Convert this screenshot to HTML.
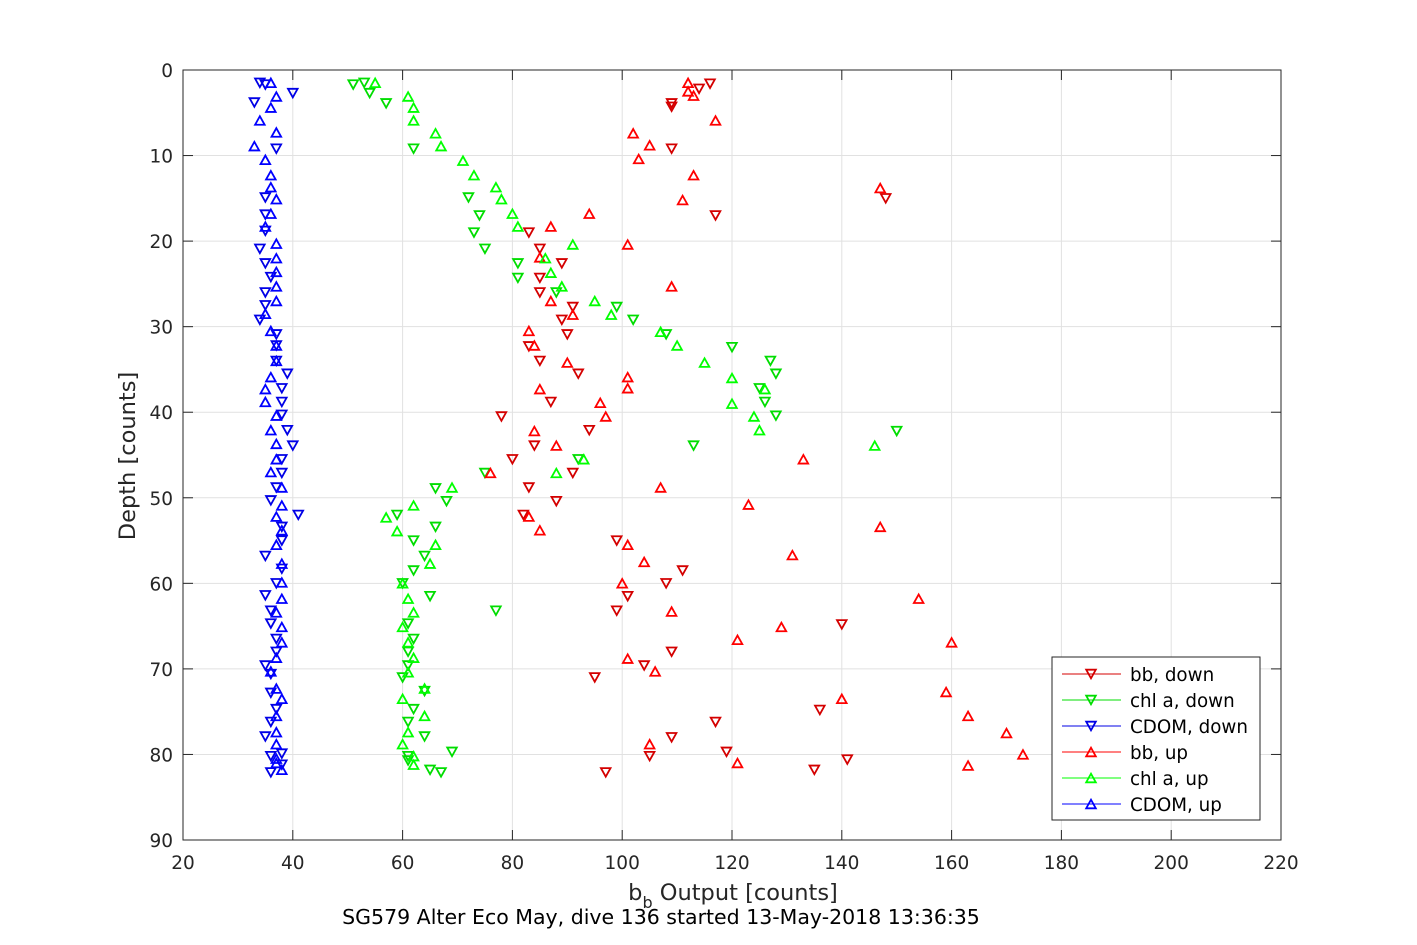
<!DOCTYPE html>
<html><head><meta charset="utf-8"><style>
body{margin:0;background:#fff;}
svg{display:block;font-family:"DejaVu Sans","Liberation Sans",sans-serif;}
</style></head><body>
<svg id="chart" width="1417" height="945" viewBox="0 0 1417 945" xmlns="http://www.w3.org/2000/svg">
<rect x="0" y="0" width="1417" height="945" fill="#fff"/>
<g id="grid"></g>
<g id="axes"></g>
<g id="marks"></g>
<text transform="translate(135,456) rotate(-90)" text-anchor="middle" font-size="22.5" fill="#262626">Depth [counts]</text>
<text x="733" y="900" text-anchor="middle" font-size="22.5" fill="#262626">b<tspan font-size="16" dy="8">b</tspan><tspan dy="-8"> Output [counts]</tspan></text>
<text x="661" y="924" text-anchor="middle" font-size="20.5" fill="#000">SG579 Alter Eco May, dive 136 started 13-May-2018 13:36:35</text>
<g id="legend"></g>
</svg>
<script>
const xTicks=[20,40,60,80,100,120,140,160,180,200,220];
const yTicks=[0,10,20,30,40,50,60,70,80,90];
const seriesNames=["bb, down","chl a, down","CDOM, down","bb, up","chl a, up","CDOM, up"];
const seriesColors=["#d40000","#00dd00","#0000e6","#ff0000","#00ff00","#0000ff"];
const seriesDir=["down","down","down","up","up","up"];
const bbDown=[[116,1.6],[114,2.2],[109,3.9],[109,4.3],[109,9.2],[117,17],[148,15],[83,19],[85,20.9],[89,22.6],[85,24.3],[85,26],[91,27.7],[89,29.2],[90,30.9],[83,32.3],[85,34],[92,35.5],[87,38.8],[78,40.5],[94,42.1],[84,43.9],[80,45.5],[91,47.1],[83,48.8],[88,50.4],[82,52],[99,55],[111,58.5],[108,60],[101,61.5],[99,63.2],[140,64.8],[109,68],[104,69.6],[95,71],[136,74.8],[117,76.2],[109,78],[119,79.7],[105,80.2],[141,80.6],[135,81.8],[97,82.1]];
const chlDown=[[51,1.7],[53,1.5],[54,2.7],[57,3.9],[62,9.2],[72,14.9],[74,17],[73,19],[75,20.9],[81,22.6],[81,24.3],[88,26],[99,27.7],[102,29.2],[108,30.9],[120,32.4],[127,34],[128,35.5],[125,37.2],[126,38.8],[128,40.4],[150,42.2],[113,43.9],[92,45.5],[75,47.1],[66,48.9],[68,50.4],[59,52],[66,53.4],[62,55],[64,56.8],[62,58.5],[60,60],[65,61.5],[77,63.2],[61,64.7],[62,66.5],[61,68],[61,69.6],[60,71],[64,72.6],[62,74.7],[61,76.2],[64,77.9],[69,79.7],[61,80.2],[61,80.7],[65,81.8],[67,82.1]];
const cdomDown=[[34,1.5],[35,1.7],[40,2.7],[33,3.8],[37,9.2],[35,14.9],[35,16.9],[35,18.8],[34,20.9],[35,22.6],[36,24.2],[35,26],[35,27.5],[34,29.2],[37,30.9],[37,32.2],[37,34],[39,35.5],[38,37.2],[38,38.8],[38,40.3],[39,42.1],[40,43.9],[38,45.5],[38,47.1],[37,48.8],[36,50.3],[41,52],[38,53.4],[38,55],[35,56.8],[38,58.3],[37,60],[35,61.4],[36,63.2],[36,64.7],[37,66.5],[37,68],[35,69.6],[36,70.6],[36,72.8],[37,74.7],[36,76.2],[35,77.9],[38,79.9],[36,80.2],[38,81.2],[36,82.1]];
const bbUp=[[112,1.5],[112,2.5],[113,3],[117,5.9],[102,7.4],[105,8.8],[103,10.4],[113,12.3],[147,13.8],[111,15.2],[94,16.8],[87,18.3],[101,20.4],[85,21.9],[109,25.3],[87,27],[91,28.6],[83,30.5],[84,32.2],[90,34.2],[101,35.9],[101,37.2],[85,37.3],[96,38.9],[97,40.5],[84,42.2],[88,43.9],[133,45.5],[76,47.1],[107,48.8],[123,50.8],[83,52.2],[147,53.4],[85,53.8],[101,55.5],[131,56.7],[104,57.5],[100,60],[154,61.8],[109,63.3],[129,65.1],[121,66.6],[160,66.9],[101,68.8],[106,70.3],[159,72.7],[140,73.5],[163,75.5],[170,77.5],[105,78.8],[173,80],[121,81],[163,81.3]];
const chlUp=[[55,1.5],[61,3.1],[62,4.4],[62,5.9],[66,7.4],[67,8.9],[71,10.6],[73,12.3],[77,13.7],[78,15.1],[80,16.8],[81,18.3],[91,20.4],[86,22],[87,23.7],[89,25.3],[95,27],[98,28.6],[107,30.6],[110,32.2],[115,34.2],[120,36],[126,37.3],[120,39],[124,40.5],[125,42.1],[146,43.9],[93,45.5],[88,47.1],[69,48.8],[62,50.9],[57,52.3],[59,53.9],[66,55.5],[65,57.7],[60,60],[61,61.8],[62,63.4],[60,65.1],[61,66.9],[62,68.7],[61,70.4],[64,72.3],[60,73.5],[64,75.5],[61,77.4],[60,78.8],[62,80.2],[62,81.2]];
const cdomUp=[[36,1.5],[37,3.1],[36,4.4],[34,5.9],[37,7.3],[33,8.9],[35,10.5],[36,12.3],[36,13.7],[37,15.1],[36,16.8],[35,18.3],[37,20.3],[37,22],[37,23.6],[37,25.3],[37,27],[35,28.5],[36,30.5],[37,32.2],[37,34],[36,35.9],[35,37.3],[35,38.8],[37,40.4],[36,42.1],[37,43.7],[37,45.5],[36,47],[38,48.8],[38,50.9],[37,52.2],[38,53.8],[37,55.5],[38,57.7],[38,59.9],[38,61.8],[37,63.4],[38,65.1],[38,66.9],[37,68.7],[36,70.3],[37,72.3],[38,73.5],[37,75.5],[37,77.4],[37,78.8],[37,80.5],[37,81],[38,81.8]];
const allSeries=[bbDown,chlDown,cdomDown,bbUp,chlUp,cdomUp];

const NS="http://www.w3.org/2000/svg";
const L=183,R=1281,T=70,B=840;
const xMin=20,xMax=220,yMin=0,yMax=90;
function xs(v){return L+(v-xMin)/(xMax-xMin)*(R-L);}
function ys(v){return T+(v-yMin)/(yMax-yMin)*(B-T);}
function mk(tag,attrs,parent){const e=document.createElementNS(NS,tag);for(const k in attrs)e.setAttribute(k,attrs[k]);parent.appendChild(e);return e;}
function tri(cx,cy,dir){const h=4.3,w=4.8;return dir==="down"?`${cx-w},${cy-h} ${cx+w},${cy-h} ${cx},${cy+h}`:`${cx-w},${cy+h} ${cx+w},${cy+h} ${cx},${cy-h}`;}

const grid=document.getElementById('grid'),axes=document.getElementById('axes'),marks=document.getElementById('marks'),legend=document.getElementById('legend');
mk('rect',{x:L,y:T,width:R-L,height:B-T,fill:'#fff'},grid);
xTicks.forEach(t=>{
  const gl=mk('line',{x1:xs(t),x2:xs(t),y1:T,y2:B,stroke:'#e1e1e1','stroke-width':1},grid);
  
  
  mk('line',{x1:xs(t),x2:xs(t),y1:B,y2:B-10,stroke:'#262626','stroke-width':1},axes);
  mk('line',{x1:xs(t),x2:xs(t),y1:T,y2:T+10,stroke:'#262626','stroke-width':1},axes);
  const tx=mk('text',{x:xs(t),y:B+29,'text-anchor':'middle','font-size':18.5,fill:'#262626'},axes);
  tx.textContent=t;
  
  
});
yTicks.forEach(t=>{
  const gl=mk('line',{x1:L,x2:R,y1:ys(t),y2:ys(t),stroke:'#e1e1e1','stroke-width':1},grid);
  
  
  mk('line',{x1:L,x2:L+10,y1:ys(t),y2:ys(t),stroke:'#262626','stroke-width':1},axes);
  mk('line',{x1:R,x2:R-10,y1:ys(t),y2:ys(t),stroke:'#262626','stroke-width':1},axes);
  const tx=mk('text',{x:L-10,y:ys(t)+7,'text-anchor':'end','font-size':18.5,fill:'#262626'},axes);
  tx.textContent=t;
  
  
});
mk('rect',{x:L,y:T,width:R-L,height:B-T,fill:'none',stroke:'#262626','stroke-width':1},axes);

allSeries.forEach((s,i)=>{
  s.forEach(p=>{
    const m=mk('polygon',{points:tri(xs(p[0]),ys(p[1]),seriesDir[i]),fill:'none',stroke:seriesColors[i],'stroke-width':1.8},marks);
    
    
  });
});

const lb=mk('rect',{x:1052,y:657,width:208,height:163,fill:'#fff',stroke:'#262626','stroke-width':1},legend);


seriesNames.forEach((n,i)=>{
  const y=674+i*26;
  const g=mk('g',{},legend);
  
  
  mk('line',{x1:1062,x2:1121,y1:y,y2:y,stroke:seriesColors[i],'stroke-width':1},g);
  mk('polygon',{points:tri(1091,y,seriesDir[i]),fill:'none',stroke:seriesColors[i],'stroke-width':1.8},g);
  const t=mk('text',{x:1130,y:y+7,'font-size':18.3,fill:'#000'},g);
  t.textContent=n;
});
</script>
</body></html>
